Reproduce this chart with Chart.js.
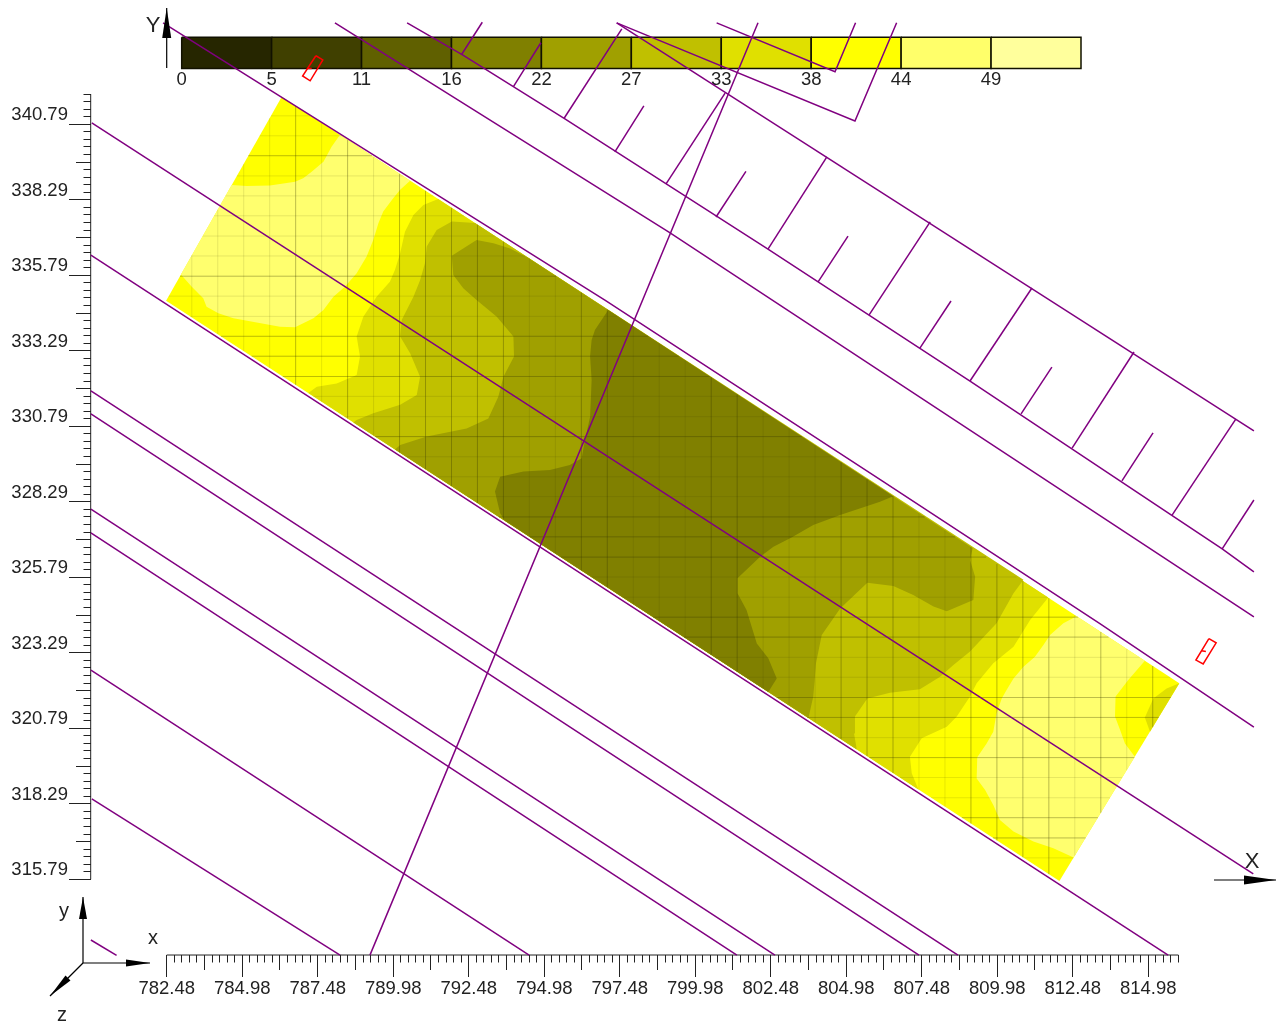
<!DOCTYPE html>
<html>
<head>
<meta charset="utf-8">
<title>Contour map</title>
<style>
  html, body { margin: 0; padding: 0; background: #fff; }
  canvas { display: block; }
</style>
<script src="https://cdn.jsdelivr.net/npm/chart.js@4"></script>
</head>
<body>
<canvas id="myChart" width="1278" height="1022"></canvas>
<script>
// axis labels
const xTickLabels = [782.48, 784.98, 787.48, 789.98, 792.48, 794.98, 797.48, 799.98, 802.48, 804.98, 807.48, 809.98, 812.48, 814.98];
const yTickLabels = [340.79, 338.29, 335.79, 333.29, 330.79, 328.29, 325.79, 323.29, 320.79, 318.29, 315.79];
const colorBarLabels = ["0", "5", "11", "16", "22", "27", "33", "38", "44", "49"];
const colorBarStops = [0, 5.5, 11, 16.5, 22, 27.5, 33, 38.5, 44, 49.5, 55];
const colorBarColors = ["#262600", "#404000", "#606000", "#808000", "#a0a000", "#c0c000", "#e0e000", "#ffff00", "#ffff6a", "#ffff9c"];

// survey strip outline
const stripOutline = [[786.29, 341.70], [816.01, 322.28], [812.04, 315.73], [782.46, 334.95]];

// contour regions, painted from the outer level to the inner one
const paleNorth = [[788.22, 340.44], [787.94, 340.05], [787.67, 339.55], [787.28, 339.22], [787.00, 339.00], [786.73, 338.89], [785.90, 338.76], [785.13, 338.75], [784.63, 338.78], [782.95, 335.82], [783.31, 335.41], [783.69, 335.03], [783.80, 334.75], [784.19, 334.53], [784.69, 334.37], [785.46, 334.23], [786.23, 334.09], [786.73, 334.07], [787.34, 334.37], [787.67, 334.64], [788.00, 335.08], [788.38, 335.41], [788.77, 335.86], [789.10, 336.41], [789.32, 336.96], [789.49, 337.51], [789.65, 337.90], [789.98, 338.34], [790.21, 338.62], [790.54, 338.92]];
const paleSouth = [[812.61, 324.50], [812.17, 324.27], [811.73, 323.88], [811.51, 323.55], [811.23, 323.16], [810.85, 322.83], [810.52, 322.44], [810.29, 322.06], [810.13, 321.78], [809.96, 321.29], [809.85, 320.68], [809.63, 320.29], [809.32, 319.83], [809.30, 319.13], [809.58, 318.75], [809.85, 318.25], [810.07, 317.75], [810.52, 317.37], [811.18, 317.04], [811.84, 316.82], [812.51, 316.51], [814.54, 319.85], [814.21, 320.29], [814.05, 320.73], [813.88, 321.18], [813.90, 321.84], [814.32, 322.39], [814.87, 323.03]];
const cornerLevel33 = [[816.01, 322.28], [815.59, 322.11], [815.15, 321.78], [814.87, 321.15], [815.04, 320.68]];
const level33 = [[791.47, 338.32], [790.98, 338.12], [790.65, 337.79], [790.37, 337.23], [790.21, 336.52], [790.04, 335.97], [789.87, 335.58], [789.43, 335.08], [788.99, 334.42], [788.77, 333.76], [788.88, 333.10], [788.77, 332.49], [788.11, 332.21], [787.45, 332.10], [787.17, 331.89], [807.37, 318.76], [807.15, 319.30], [807.09, 319.85], [807.48, 320.46], [808.31, 320.84], [808.64, 321.18], [809.08, 321.84], [809.30, 322.28], [809.85, 322.94], [810.52, 323.49], [811.07, 324.38], [811.67, 325.12]];
const level27 = [[792.69, 337.52], [791.92, 337.57], [791.42, 337.29], [791.09, 336.74], [791.03, 336.19], [790.87, 335.63], [790.65, 335.08], [790.26, 334.31], [790.21, 333.76], [790.54, 333.21], [790.87, 332.43], [790.76, 331.83], [790.21, 331.50], [789.32, 331.22], [788.77, 331.00], [788.66, 330.92], [805.33, 320.09], [805.24, 320.62], [805.27, 321.18], [805.68, 321.78], [806.43, 321.97], [807.42, 322.08], [808.09, 322.50], [808.53, 322.89], [809.08, 323.33], [809.96, 324.27], [810.52, 325.26], [810.85, 325.71]];
const level22 = [[794.46, 336.36], [793.85, 336.68], [793.30, 336.85], [792.74, 336.96], [791.92, 336.44], [791.97, 335.80], [792.30, 335.36], [792.74, 334.97], [793.41, 334.42], [793.96, 333.76], [793.98, 333.10], [793.63, 332.43], [793.46, 331.77], [793.13, 331.05], [792.41, 330.72], [791.09, 330.45], [790.21, 330.17], [790.04, 330.02], [803.73, 321.13], [803.89, 321.84], [803.98, 322.94], [804.17, 323.88], [804.78, 324.76], [805.68, 325.61], [806.54, 325.50], [807.20, 325.20], [807.87, 324.82], [808.31, 324.67], [809.19, 325.04], [809.25, 325.81], [809.08, 326.36], [809.17, 326.75]];
const level16 = [[797.10, 334.64], [796.66, 333.98], [796.55, 333.65], [796.50, 333.10], [796.55, 332.32], [796.50, 331.11], [796.33, 330.34], [796.22, 329.73], [795.83, 329.51], [795.17, 329.34], [794.29, 329.29], [793.52, 329.12], [793.35, 328.63], [793.52, 327.91], [793.68, 327.66], [802.40, 321.99], [802.68, 322.44], [802.40, 323.11], [802.02, 323.60], [801.68, 324.71], [801.38, 325.26], [801.38, 325.76], [802.13, 326.47], [802.57, 326.80], [803.17, 327.11], [803.89, 327.52], [804.78, 327.85], [806.10, 328.29], [806.54, 328.47]];

// computation mesh, the second pair of lists print darker
const meshXs = [783.31, 784.17, 785.03, 785.89, 786.75, 787.61, 788.47, 789.33, 790.19, 791.05, 791.91, 792.77, 793.63, 794.49, 795.35, 796.21, 797.07, 797.93, 798.79, 799.65, 800.51, 801.37, 802.23, 803.09, 803.95, 804.81, 805.67, 806.53, 807.39, 808.25, 809.11, 809.97, 810.83, 811.69, 812.55, 813.41, 814.27, 815.13];
const meshYs = [341.07, 340.41, 339.75, 339.08, 338.42, 337.76, 337.09, 336.43, 335.76, 335.10, 334.43, 333.77, 333.11, 332.44, 331.78, 331.11, 330.45, 329.78, 329.12, 328.46, 327.79, 327.13, 326.46, 325.80, 325.13, 324.47, 323.81, 323.14, 322.48, 321.81, 321.15, 320.48, 319.82, 319.16, 318.49, 317.83, 317.16, 316.50];
const strongMeshXs = [786.75, 788.47, 790.19, 791.05, 791.91, 792.77, 793.63, 796.21, 797.07, 800.51, 801.37, 804.81, 805.67, 806.53, 809.11, 809.97, 810.83, 811.69, 813.41, 815.13];
const strongMeshYs = [339.75, 335.76, 333.77, 333.11, 332.44, 330.45, 327.79, 327.13, 326.46, 324.47, 323.81, 321.81, 321.15, 319.82, 317.83, 317.16];

// site lines
const siteLines = [
  [[782.36, 344.15], [796.99, 334.97], [806.17, 328.98], [813.38, 324.26], [818.48, 320.83]],
  [[788.05, 344.15], [799.11, 337.22], [818.48, 324.48]],
  [[790.44, 344.15], [792.29, 343.08], [795.64, 340.99], [802.39, 336.66], [809.08, 332.29], [817.43, 326.73], [818.48, 325.97]],
  [[797.38, 344.15], [818.48, 330.64]],
  [[797.38, 344.15], [805.27, 340.90], [806.65, 344.15]],
  [[800.69, 344.15], [804.61, 342.53], [805.29, 344.15]],
  [[802.06, 344.15], [789.21, 313.28]],
  [[780.00, 340.84], [818.46, 315.97]],
  [[779.97, 336.46], [815.64, 313.28]],
  [[779.97, 331.96], [808.68, 313.28]],
  [[779.97, 331.20], [807.39, 313.28]],
  [[779.97, 328.05], [802.62, 313.28]],
  [[779.97, 327.26], [801.36, 313.28]],
  [[779.97, 322.72], [794.48, 313.28]],
  [[780.00, 318.45], [788.22, 313.28]],
  [[779.97, 313.78], [780.82, 313.27]],
  [[792.25, 343.11], [792.93, 344.17]],
  [[793.96, 342.04], [794.87, 343.49]],
  [[795.64, 340.99], [797.55, 343.95]],
  [[797.32, 339.88], [798.28, 341.40]],
  [[799.01, 338.81], [800.97, 341.82]],
  [[800.67, 337.72], [801.66, 339.23]],
  [[802.39, 336.66], [804.34, 339.71]],
  [[804.05, 335.57], [805.04, 337.09]],
  [[805.74, 334.48], [807.76, 337.56]],
  [[807.42, 333.38], [808.45, 334.94]],
  [[809.08, 332.29], [811.13, 335.37]],
  [[810.77, 331.20], [811.79, 332.75]],
  [[812.46, 330.07], [814.51, 333.25]],
  [[814.11, 328.98], [815.14, 330.57]],
  [[815.77, 327.85], [817.88, 331.03]],
  [[817.43, 326.73], [818.48, 328.35]],
];

// red markers
const redMarkers = [
  [[787.42, 343.06], [787.65, 342.92], [787.23, 342.23], [786.98, 342.39], [787.42, 343.06]],
  [[787.12, 342.64], [787.28, 342.64]],
  [[816.99, 323.76], [817.23, 323.62], [816.80, 322.92], [816.56, 323.05], [816.99, 323.76]],
  [[816.75, 323.36], [816.89, 323.33]],
];

const xAxisRange = [782.48, 815.98];
const yAxisRange = [315.79, 341.79];
const xAxisAt = 313.283;
const yAxisAt = 779.963;
const yLabelsAt = 779.21;
const colorBarTop = 343.67;
const colorBarBottom = 342.64;

const toPoints = (list) => list.map((p) => ({ x: p[0], y: p[1] }));

function polygon(list, color) {
  return { data: toPoints(list), showLine: true, pointRadius: 0, borderWidth: 0, backgroundColor: color, fill: "shape" };
}
function polyline(list, color, width) {
  return { data: toPoints(list), showLine: true, pointRadius: 0, borderWidth: width, borderColor: color, fill: false };
}

// cut a mesh line to the strip
function crossings(axis, value) {
  const hits = [];
  stripOutline.forEach((a, i) => {
    const b = stripOutline[(i + 1) % stripOutline.length];
    const lo = a[axis], hi = b[axis];
    if ((lo - value) * (hi - value) <= 0 && lo !== hi) {
      hits.push(a[1 - axis] + ((value - lo) / (hi - lo)) * (b[1 - axis] - a[1 - axis]));
    }
  });
  return [Math.min(...hits), Math.max(...hits)];
}
function meshPoints(xs, ys) {
  const pts = [];
  xs.forEach((x) => {
    const [a, b] = crossings(0, x);
    pts.push({ x: x, y: a }, { x: x, y: b }, { x: null, y: null });
  });
  ys.forEach((y) => {
    const [a, b] = crossings(1, y);
    pts.push({ x: a, y: y }, { x: b, y: y }, { x: null, y: null });
  });
  return pts;
}

const datasets = [];
colorBarColors.forEach((c, i) => {
  const a = colorBarStops[i], b = colorBarStops[i + 1];
  const ds = polygon([[a, colorBarTop], [b, colorBarTop], [b, colorBarBottom], [a, colorBarBottom], [a, colorBarTop]], c);
  ds.xAxisID = "xBar";
  ds.borderWidth = 1.5;
  ds.borderColor = "#111100";
  datasets.push(ds);
});
datasets.push(polygon(stripOutline, "#ffff00"));
datasets.push(polygon(paleNorth, "#ffff6e"));
datasets.push(polygon(paleSouth, "#ffff6e"));
datasets.push(polygon(level33, "#e0e000"));
datasets.push(polygon(cornerLevel33, "#e0e000"));
datasets.push(polygon(level27, "#c0c000"));
datasets.push(polygon(level22, "#a0a000"));
datasets.push(polygon(level16, "#808000"));
datasets.push({ data: meshPoints(meshXs, meshYs), showLine: true, spanGaps: false, pointRadius: 0, borderWidth: 1, borderColor: "rgba(60,60,0,0.12)", fill: false });
datasets.push({ data: meshPoints(strongMeshXs, strongMeshYs), showLine: true, spanGaps: false, pointRadius: 0, borderWidth: 1, borderColor: "rgba(60,60,0,0.24)", fill: false });
datasets.push(polyline([[xAxisRange[0], xAxisAt], [xAxisRange[1], xAxisAt]], "#222", 1));
datasets.push(polyline([[yAxisAt, yAxisRange[0]], [yAxisAt, yAxisRange[1]]], "#222", 1));
siteLines.forEach((l) => datasets.push(polyline(l, "#800080", 1.5)));
redMarkers.forEach((l) => datasets.push(polyline(l, "#ff0000", 1.5)));
// later entries go on top
datasets.forEach((d, i) => { d.order = datasets.length - i; d.tension = 0; });

function steps(from, to, step) {
  const out = [];
  const n = Math.round((to - from) / step);
  for (let i = 0; i <= n; i++) out.push(+(from + i * step).toFixed(2));
  return out;
}
const xMinorTicks = steps(xAxisRange[0], xAxisRange[1], 0.25);
const xMidTicks = xTickLabels.slice(0, -1).map((v) => +(v + 1.25).toFixed(2));
const yMinorTicks = steps(yAxisRange[0], yAxisRange[1], 0.25);
const yMidTicks = yTickLabels.slice(1).map((v) => +(v + 1.25).toFixed(2));

const labelFont = { family: "'Liberation Sans', Arial, sans-serif", size: 18.5 };
const xLimits = { min: 776.96, max: 819.278 };
const yLimits = { min: 311.065, max: 344.906 };

function tickAxis(values, length, extra) {
  return Object.assign({
    type: "linear",
    border: { display: false },
    grid: { drawOnChartArea: false, drawTicks: true, tickLength: length, color: "#222", lineWidth: 1 },
    ticks: { display: false, autoSkip: false, maxRotation: 0, minRotation: 0 },
    afterBuildTicks: (ax) => { ax.ticks = values.map((v) => ({ value: v })); },
  }, extra);
}

const xBottom = { position: { y: xAxisAt } };
const yLeft = { position: { x: yAxisAt } };

const axisDecor = {
  id: "axisDecor",
  afterDraw(chart) {
    const ctx = chart.ctx;
    const arrow = (x0, y0, x1, y1, bx, by, half) => {
      const len = Math.hypot(x1 - x0, y1 - y0);
      const nx = -(y1 - y0) / len, ny = (x1 - x0) / len;
      ctx.beginPath(); ctx.moveTo(x0, y0); ctx.lineTo(x1, y1); ctx.stroke();
      ctx.beginPath(); ctx.moveTo(x1, y1);
      ctx.lineTo(bx + nx * half, by + ny * half);
      ctx.lineTo(bx - nx * half, by - ny * half);
      ctx.closePath(); ctx.fill();
    };
    ctx.save();
    ctx.strokeStyle = "#000"; ctx.fillStyle = "#000"; ctx.lineWidth = 1.2;
    arrow(166.7, 68, 166.7, 8, 166.7, 38, 4.5);
    arrow(1214, 880, 1276, 880, 1244, 880, 4.5);
    arrow(83, 963, 83, 897, 83, 919, 4);
    arrow(83, 963, 150, 963, 126, 963, 3.5);
    arrow(83, 963, 50, 996, 68, 978, 3.5);
    ctx.fillStyle = "#222";
    ctx.textAlign = "center"; ctx.textBaseline = "middle";
    ctx.font = "22px 'Liberation Sans', Arial, sans-serif";
    ctx.fillText("Y", 153, 26);
    ctx.fillText("X", 1252, 862);
    ctx.font = "20px 'Liberation Sans', Arial, sans-serif";
    ctx.fillText("y", 64, 911);
    ctx.fillText("x", 153, 938);
    ctx.fillText("z", 62, 1015);
    ctx.restore();
  },
};

new Chart(document.getElementById("myChart"), {
  type: "scatter",
  data: { datasets: datasets },
  plugins: [axisDecor],
  options: {
    responsive: false,
    animation: false,
    layout: { padding: 0, autoPadding: false },
    plugins: { legend: { display: false }, tooltip: { enabled: false } },
    scales: {
      x: tickAxis(xTickLabels, 22, Object.assign({}, xLimits, xBottom, {
        ticks: { display: true, autoSkip: false, maxRotation: 0, minRotation: 0, padding: 1, font: labelFont, color: "#222", callback: (v) => v.toFixed(2) },
      })),
      xMid: tickAxis(xMidTicks, 15, Object.assign({}, xLimits, xBottom)),
      xMinor: tickAxis(xMinorTicks, 7.5, Object.assign({}, xLimits, xBottom)),
      xBar: tickAxis(colorBarStops.slice(0, -1), 0, {
        min: -11.112, max: 67.048, position: { y: colorBarBottom },
        grid: { drawOnChartArea: false, drawTicks: false },
        ticks: { display: true, autoSkip: false, maxRotation: 0, minRotation: 0, padding: 0, font: labelFont, color: "#222", callback: (v, i) => colorBarLabels[i] },
      }),
      y: tickAxis(yTickLabels, 0, Object.assign({}, yLimits, { position: { x: yLabelsAt } }, {
        grid: { drawOnChartArea: false, drawTicks: false },
        ticks: { display: true, autoSkip: false, maxRotation: 0, minRotation: 0, padding: 0, labelOffset: -9, font: labelFont, color: "#222", callback: (v) => v.toFixed(2) },
        // labels sit well inside the canvas, keep the plot on the full height
        afterFit: (ax) => { ax.paddingTop = 0; ax.paddingBottom = 0; },
      })),
      yMajor: tickAxis(yTickLabels, 22, Object.assign({}, yLimits, yLeft)),
      yMid: tickAxis(yMidTicks, 15, Object.assign({}, yLimits, yLeft)),
      yMinor: tickAxis(yMinorTicks, 7.5, Object.assign({}, yLimits, yLeft)),
    },
  },
});
</script>
</body>
</html>
